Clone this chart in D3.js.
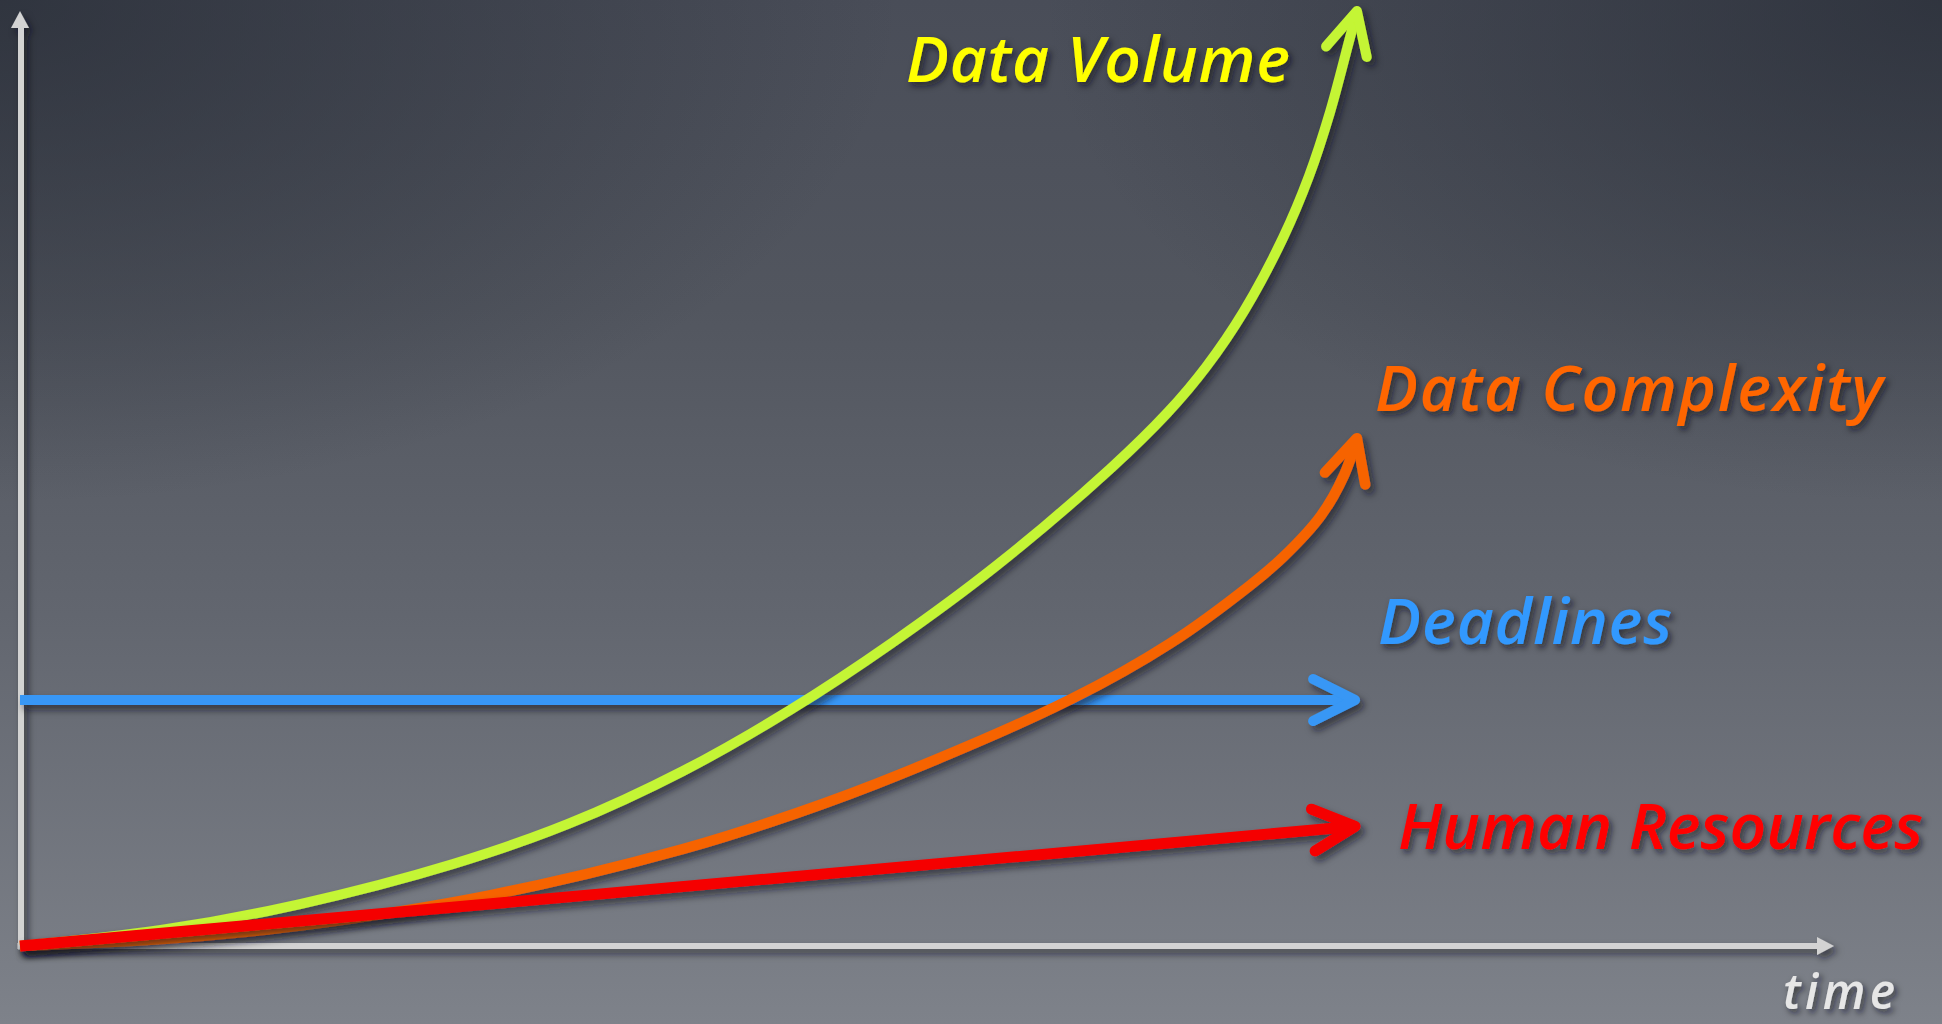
<!DOCTYPE html>
<html>
<head>
<meta charset="utf-8">
<script src="https://cdn.jsdelivr.net/npm/d3@7"></script>
<style>
  html, body { margin: 0; padding: 0; background: #555a64; overflow: hidden; }
  svg { display: block; }
  .lbl { font-family: "Open Sans", "Noto Sans", sans-serif; font-style: italic; font-weight: 600; }
</style>
</head>
<body>
<svg id="chart" width="1942" height="1024"></svg>
<script>
// ---------------- DATA ----------------
const seriesNames = ["Data Volume", "Data Complexity", "Deadlines", "Human Resources"];
const axisLabel = "time";

const volumeTime  = [0, 7.77, 15.44, 23.87, 30.21, 36.55, 42.45, 48.13, 53.80, 60.09, 63.29, 65.38, 67.47, 69.62, 71.06, 72.22, 73.21, 73.70];
const volumeValue = [0, 1.71, 4.49, 8.77, 13.05, 18.72, 25.24, 32.51, 40.64, 51.02, 57.11, 61.93, 67.91, 75.72, 82.35, 89.20, 96.36, 100];

const complexityTime  = [0, 8.77, 15.44, 25.96, 36.55, 42.83, 48.51, 57.94, 63.40, 67.81, 69.62, 71.72, 72.99, 73.70];
const complexityValue = [0, 0.89, 2.18, 5.45, 10.37, 14.22, 18.35, 26.40, 32.37, 38.58, 41.57, 46.04, 50.35, 54.31];

const deadlinesTime  = [0, 73.6];
const deadlinesValue = [26.3, 26.3];

const humanTime  = [0, 73.6];
const humanValue = [0, 12.8];

// ---------------- SETUP ----------------
const W = 1942, H = 1024;
const svg = d3.select("#chart");
const defs = svg.append("defs");

const x = d3.scaleLinear().domain([0, 100]).range([20, 1834]);
const y = d3.scaleLinear().domain([0, 100]).range([946, 11]);

// background
const bg = defs.append("linearGradient").attr("id", "bg").attr("x1", 0).attr("y1", 0).attr("x2", 0).attr("y2", 1);
[[0, "#494d58"], [0.3, "#52565f"], [0.6, "#62666f"], [1, "#7e828a"]].forEach(s =>
  bg.append("stop").attr("offset", s[0]).attr("stop-color", s[1]));
function corner(id, cx) {
  const g = defs.append("radialGradient").attr("id", id)
    .attr("gradientUnits", "userSpaceOnUse")
    .attr("cx", cx).attr("cy", 0).attr("r", 900)
    .attr("gradientTransform", `translate(${cx},0) scale(1,0.56) translate(${-cx},0)`);
  g.append("stop").attr("offset", 0).attr("stop-color", "#262b35").attr("stop-opacity", 0.72);
  g.append("stop").attr("offset", 1).attr("stop-color", "#262b35").attr("stop-opacity", 0);
}
corner("cornerL", 0);
corner("cornerR", W);
svg.append("rect").attr("width", W).attr("height", H).attr("fill", "url(#bg)");
svg.append("rect").attr("width", W).attr("height", H).attr("fill", "url(#cornerL)");
svg.append("rect").attr("width", W).attr("height", H).attr("fill", "url(#cornerR)");

// shadows (user-space filter region so horizontal lines are not clipped)
const f1 = defs.append("filter").attr("id", "shadow")
  .attr("filterUnits", "userSpaceOnUse").attr("x", 0).attr("y", 0).attr("width", W).attr("height", H);
f1.append("feDropShadow").attr("dx", 4).attr("dy", 5).attr("stdDeviation", 3.5)
  .attr("flood-color", "#10131a").attr("flood-opacity", 0.6);
const f2 = defs.append("filter").attr("id", "tshadow")
  .attr("filterUnits", "userSpaceOnUse").attr("x", 0).attr("y", 0).attr("width", W).attr("height", H);
f2.append("feDropShadow").attr("dx", 3).attr("dy", 4).attr("stdDeviation", 3)
  .attr("flood-color", "#10131a").attr("flood-opacity", 0.65);

// ---------------- AXES ----------------
const axisColor = "#d3d3d3";
const axesG = svg.append("g").attr("filter", "url(#shadow)");
const xAxisScale = x.copy().range([x(0) - 3, x(100) - 14]);
const yAxisScale = y.copy().range([y(0) + 3, y(100) + 14]);
axesG.append("g").attr("transform", `translate(0,${y(0)})`)
  .call(d3.axisBottom(xAxisScale).tickValues([]).tickSizeOuter(0))
  .call(g => g.select(".domain").attr("stroke", axisColor).attr("stroke-width", 6).attr("transform", "translate(0,-0.5)"));
axesG.append("g").attr("transform", `translate(${x(0)},0)`)
  .call(d3.axisLeft(yAxisScale).tickValues([]).tickSizeOuter(0))
  .call(g => g.select(".domain").attr("stroke", axisColor).attr("stroke-width", 6).attr("transform", "translate(0.5,0)"));
axesG.append("path")
  .attr("d", `M${x(100)},${y(0)}L${x(100) - 17},${y(0) - 9}L${x(100) - 17},${y(0) + 9}Z`)
  .attr("fill", axisColor);
axesG.append("path")
  .attr("d", `M${x(0)},${y(100)}L${x(0) - 9},${y(100) + 17}L${x(0) + 9},${y(100) + 17}Z`)
  .attr("fill", axisColor);

// ---------------- SERIES ----------------
const series = [
  { name: seriesNames[0], pts: d3.zip(volumeTime, volumeValue) },
  { name: seriesNames[1], pts: d3.zip(complexityTime, complexityValue) },
  { name: seriesNames[2], pts: d3.zip(deadlinesTime, deadlinesValue) },
  { name: seriesNames[3], pts: d3.zip(humanTime, humanValue) }
];
const style = {
  "Data Volume":     { line: "#c4f534", text: "#ffff00", w: 10 },
  "Data Complexity": { line: "#f66300", text: "#ff6600", w: 10.5 },
  "Deadlines":       { line: "#3797f5", text: "#3399ff", w: 10 },
  "Human Resources": { line: "#f50000", text: "#ff0000", w: 11 }
};

series.forEach((s, i) => {
  const st = style[s.name];
  const m = defs.append("marker").attr("id", "arr" + i)
    .attr("markerUnits", "userSpaceOnUse").attr("orient", "auto")
    .attr("refX", 0).attr("refY", 0).attr("markerWidth", 1).attr("markerHeight", 1)
    .attr("overflow", "visible");
  m.append("path").attr("d", "M-42,-21L0,0L-42,21")
    .attr("fill", "none").attr("stroke", st.line).attr("stroke-width", st.w)
    .attr("stroke-linecap", "round").attr("stroke-linejoin", "round");
});

const line = d3.line().x(d => x(d[0])).y(d => y(d[1])).curve(d3.curveCatmullRom.alpha(0.5));
const drawOrder = [2, 0, 1, 3];
drawOrder.forEach(i => {
  const s = series[i], st = style[s.name];
  svg.append("path").datum(s.pts)
    .attr("d", line)
    .attr("fill", "none")
    .attr("stroke", st.line)
    .attr("stroke-width", st.w)
    .attr("stroke-linecap", "butt")
    .attr("marker-end", `url(#arr${i})`)
    .attr("filter", "url(#shadow)");
});

// ---------------- LABELS ----------------
function endPt(s) { const p = s.pts[s.pts.length - 1]; return [x(p[0]), y(p[1])]; }
const lg = svg.append("g").attr("filter", "url(#tshadow)");
{
  const e = endPt(series[0]);
  lg.append("text").attr("class", "lbl").attr("x", e[0] - 451).attr("y", e[1] + 71)
    .attr("font-size", 64).attr("fill", style[seriesNames[0]].text)
    .attr("textLength", 384).attr("lengthAdjust", "spacing").text(seriesNames[0]);
}
{
  const e = endPt(series[1]);
  lg.append("text").attr("class", "lbl").attr("x", e[0] + 18).attr("y", e[1] - 27)
    .attr("font-size", 64).attr("fill", style[seriesNames[1]].text)
    .attr("textLength", 508).attr("lengthAdjust", "spacing").text(seriesNames[1]);
}
{
  const e = endPt(series[2]);
  lg.append("text").attr("class", "lbl").attr("x", e[0] + 23).attr("y", e[1] - 56)
    .attr("font-size", 64).attr("fill", style[seriesNames[2]].text)
    .attr("textLength", 294).attr("lengthAdjust", "spacing").text(seriesNames[2]);
}
{
  const e = endPt(series[3]);
  lg.append("text").attr("class", "lbl").attr("x", e[0] + 43).attr("y", e[1] + 23)
    .attr("font-size", 64).attr("fill", style[seriesNames[3]].text)
    .attr("textLength", 525).attr("lengthAdjust", "spacing").text(seriesNames[3]);
}
lg.append("text").attr("class", "lbl").attr("x", x(100) - 51).attr("y", y(0) + 63)
  .attr("font-size", 48).attr("fill", "#e6e6e6")
  .attr("textLength", 112).attr("lengthAdjust", "spacing").text(axisLabel);
</script>
</body>
</html>
